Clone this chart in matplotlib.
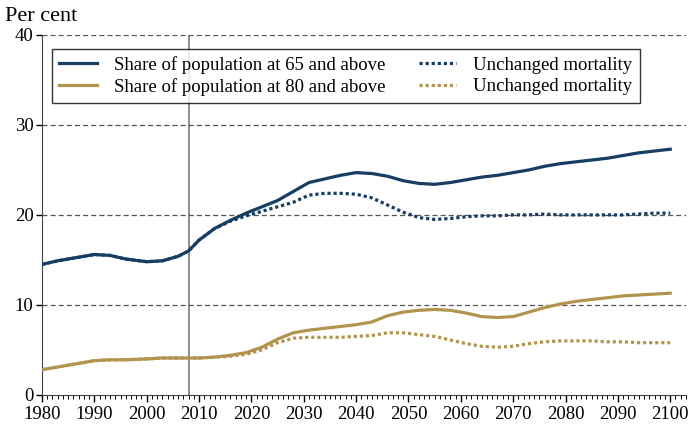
import matplotlib
matplotlib.use('Agg')
import matplotlib.pyplot as plt
from matplotlib.ticker import MultipleLocator

plt.rcParams['font.family'] = ['Liberation Serif', 'DejaVu Serif']

# projection, share of population by age group
years = [1980, 1983, 1986, 1990, 1993, 1996, 2000, 2003, 2006, 2008, 2010, 2013, 2016,
         2019, 2022, 2025, 2028, 2031, 2034, 2037, 2040, 2043, 2046, 2049, 2052, 2055,
         2058, 2061, 2064, 2067, 2070, 2073, 2076, 2079, 2082, 2085, 2088, 2091, 2094,
         2097, 2100]

share65 = [14.5, 14.9, 15.2, 15.6, 15.5, 15.1, 14.8, 14.9, 15.4, 16.0, 17.2, 18.5, 19.4,
           20.2, 20.9, 21.6, 22.6, 23.6, 24.0, 24.4, 24.7, 24.6, 24.3, 23.8, 23.5, 23.4,
           23.6, 23.9, 24.2, 24.4, 24.7, 25.0, 25.4, 25.7, 25.9, 26.1, 26.3, 26.6, 26.9,
           27.1, 27.3]
share65_mort = [14.5, 14.9, 15.2, 15.6, 15.5, 15.1, 14.8, 14.9, 15.4, 16.0, 17.2, 18.5, 19.3,
                19.9, 20.4, 20.9, 21.4, 22.2, 22.4, 22.4, 22.3, 21.9, 21.1, 20.3, 19.7, 19.5,
                19.6, 19.8, 19.9, 19.9, 20.0, 20.0, 20.1, 20.0, 20.0, 20.0, 20.0, 20.0, 20.1,
                20.2, 20.2]
share80 = [2.8, 3.1, 3.4, 3.8, 3.9, 3.9, 4.0, 4.1, 4.1, 4.1, 4.1, 4.2, 4.4,
           4.7, 5.3, 6.2, 6.9, 7.2, 7.4, 7.6, 7.8, 8.1, 8.8, 9.2, 9.4, 9.5,
           9.4, 9.1, 8.7, 8.6, 8.7, 9.2, 9.7, 10.1, 10.4, 10.6, 10.8, 11.0, 11.1,
           11.2, 11.3]
share80_mort = [2.8, 3.1, 3.4, 3.8, 3.9, 3.9, 4.0, 4.1, 4.1, 4.1, 4.1, 4.2, 4.3,
                4.5, 5.0, 5.8, 6.3, 6.4, 6.4, 6.4, 6.5, 6.6, 6.9, 6.9, 6.7, 6.5,
                6.1, 5.7, 5.4, 5.3, 5.4, 5.7, 5.9, 6.0, 6.0, 6.0, 5.9, 5.9, 5.8,
                5.8, 5.8]

navy = '#173d63'
gold = '#b3944f'

fig = plt.figure(figsize=(6.88, 4.26), dpi=100)
ax = fig.add_axes([0.061, 0.073, 0.936, 0.845])

ax.axvline(2008, color='#7a7a7a', lw=1.2, zorder=1)
for y in [10, 20, 30, 40]:
    ax.axhline(y, color='#555555', lw=0.9, ls=(0, (4, 2.5)), zorder=1)

l1, = ax.plot(years, share65, color=navy, lw=2.3, label='Share of population at 65 and above', zorder=3)
l2, = ax.plot(years, share80, color=gold, lw=2.3, label='Share of population at 80 and above', zorder=3)
l3, = ax.plot(years, share65_mort, color=navy, lw=2.3, ls=(0, (1, 0.9)), label='Unchanged mortality', zorder=3)
l4, = ax.plot(years, share80_mort, color=gold, lw=2.3, ls=(0, (1, 0.9)), label='Unchanged mortality', zorder=3)

ax.set_xlim(1980, 2103)
ax.set_ylim(0, 40)
ax.xaxis.set_major_locator(MultipleLocator(10))
ax.xaxis.set_minor_locator(MultipleLocator(1))
ax.yaxis.set_major_locator(MultipleLocator(10))
ax.tick_params(axis='x', which='major', direction='out', length=5, width=1, labelsize=13.5, pad=3)
ax.tick_params(axis='x', which='minor', direction='out', length=3, width=0.7)
ax.tick_params(axis='y', direction='out', length=4, width=1, labelsize=13.5, pad=2)
for s in ['top', 'right']:
    ax.spines[s].set_visible(False)
ax.spines['left'].set_color('#444444')
ax.spines['bottom'].set_color('#444444')

leg = ax.legend(handles=[l1, l2, l3, l4], ncol=2, loc='upper left',
                bbox_to_anchor=(0.015, 0.962), fontsize=13.5, frameon=True,
                fancybox=False, edgecolor='black', handlelength=2.0,
                handletextpad=0.9, columnspacing=1.8, borderpad=0.4,
                labelspacing=0.22, borderaxespad=0)
leg.get_frame().set_linewidth(1.0)

fig.text(0.007, 0.962, 'Per cent', fontsize=16, va='center', ha='left')

fig.savefig('out.png', dpi=100)
